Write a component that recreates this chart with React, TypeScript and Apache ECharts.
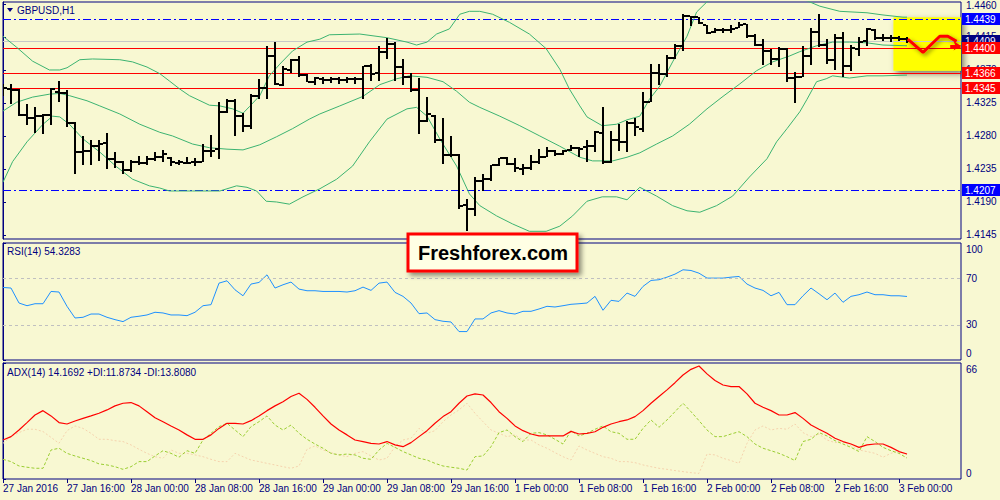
import React, { useEffect, useRef } from 'react';
import * as echarts from 'echarts';

const FONT = "'Liberation Sans', Arial, sans-serif";
const NAVY = '#000080';
const BG = '#F8F8D2';

const TIME_LABELS = ['27 Jan 2016', '27 Jan 16:00', '28 Jan 00:00', '28 Jan 08:00', '28 Jan 16:00', '29 Jan 00:00', '29 Jan 08:00', '29 Jan 16:00', '1 Feb 00:00', '1 Feb 08:00', '1 Feb 16:00', '2 Feb 00:00', '2 Feb 08:00', '2 Feb 16:00', '3 Feb 00:00'];
const BARS_PER_LABEL = 8;

const OPEN = [1.4348, 1.4344, 1.4343, 1.4308, 1.4305, 1.4307, 1.4308, 1.4340, 1.4339, 1.4298,
  1.4258, 1.4260, 1.4267, 1.4270, 1.4249, 1.4244, 1.4233, 1.4244, 1.4243, 1.4249,
  1.4252, 1.4250, 1.4243, 1.4243, 1.4244, 1.4245, 1.4259, 1.4262, 1.4313, 1.4328,
  1.4307, 1.4293, 1.4335, 1.4345, 1.4389, 1.4349, 1.4370, 1.4384, 1.4363, 1.4354,
  1.4358, 1.4357, 1.4358, 1.4357, 1.4358, 1.4358, 1.4375, 1.4366, 1.4394, 1.4405,
  1.4374, 1.4361, 1.4343, 1.4300, 1.4307, 1.4274, 1.4254, 1.4254, 1.4186, 1.4180,
  1.4219, 1.4222, 1.4240, 1.4250, 1.4242, 1.4235, 1.4237, 1.4244, 1.4251, 1.4260,
  1.4255, 1.4261, 1.4263, 1.4265, 1.4267, 1.4284, 1.4244, 1.4274, 1.4272, 1.4298,
  1.4290, 1.4327, 1.4366, 1.4365, 1.4386, 1.4403, 1.4443, 1.4442, 1.4431, 1.4422,
  1.4424, 1.4424, 1.4427, 1.4433, 1.4416, 1.4404, 1.4396, 1.4385, 1.4399, 1.4359,
  1.4361, 1.4389, 1.4422, 1.4404, 1.4383, 1.4413, 1.4376, 1.4399, 1.4409, 1.4425,
  1.4413, 1.4413, 1.4413, 1.4412];
const HIGH = [1.4351, 1.4351, 1.4344, 1.4324, 1.4319, 1.4310, 1.4346, 1.4355, 1.4343, 1.4299,
  1.4280, 1.4274, 1.4274, 1.4284, 1.4258, 1.4246, 1.4247, 1.4253, 1.4253, 1.4258,
  1.4261, 1.4251, 1.4247, 1.4251, 1.4250, 1.4269, 1.4281, 1.4326, 1.4331, 1.4331,
  1.4312, 1.4337, 1.4358, 1.4403, 1.4408, 1.4376, 1.4385, 1.4389, 1.4365, 1.4361,
  1.4360, 1.4361, 1.4360, 1.4361, 1.4360, 1.4376, 1.4378, 1.4403, 1.4413, 1.4408,
  1.4385, 1.4366, 1.4359, 1.4333, 1.4308, 1.4305, 1.4280, 1.4255, 1.4194, 1.4224,
  1.4228, 1.4240, 1.4250, 1.4252, 1.4250, 1.4242, 1.4254, 1.4262, 1.4265, 1.4261,
  1.4261, 1.4268, 1.4265, 1.4274, 1.4287, 1.4319, 1.4287, 1.4296, 1.4300, 1.4305,
  1.4340, 1.4378, 1.4378, 1.4390, 1.4405, 1.4446, 1.4444, 1.4442, 1.4431, 1.4427,
  1.4427, 1.4431, 1.4435, 1.4433, 1.4419, 1.4412, 1.4399, 1.4401, 1.4400, 1.4367,
  1.4403, 1.4427, 1.4446, 1.4412, 1.4419, 1.4422, 1.4404, 1.4415, 1.4427, 1.4426,
  1.4419, 1.4418, 1.4416, 1.4415];
const LOW = [1.4335, 1.4324, 1.4307, 1.4295, 1.4284, 1.4283, 1.4295, 1.4327, 1.4292, 1.4228,
  1.4241, 1.4241, 1.4246, 1.4235, 1.4237, 1.4228, 1.4231, 1.4240, 1.4240, 1.4246,
  1.4245, 1.4239, 1.4240, 1.4242, 1.4239, 1.4244, 1.4252, 1.4248, 1.4311, 1.4280,
  1.4285, 1.4290, 1.4331, 1.4331, 1.4349, 1.4348, 1.4366, 1.4361, 1.4353, 1.4350,
  1.4351, 1.4352, 1.4351, 1.4352, 1.4351, 1.4331, 1.4355, 1.4355, 1.4385, 1.4355,
  1.4350, 1.4340, 1.4283, 1.4299, 1.4270, 1.4242, 1.4252, 1.4180, 1.4150, 1.4171,
  1.4205, 1.4219, 1.4239, 1.4240, 1.4231, 1.4227, 1.4234, 1.4242, 1.4251, 1.4253,
  1.4254, 1.4259, 1.4251, 1.4244, 1.4258, 1.4242, 1.4243, 1.4259, 1.4258, 1.4280,
  1.4285, 1.4327, 1.4350, 1.4361, 1.4385, 1.4396, 1.4430, 1.4433, 1.4419, 1.4420,
  1.4420, 1.4421, 1.4427, 1.4413, 1.4403, 1.4377, 1.4377, 1.4374, 1.4353, 1.4325,
  1.4360, 1.4377, 1.4401, 1.4378, 1.4370, 1.4361, 1.4369, 1.4389, 1.4403, 1.4411,
  1.4409, 1.4408, 1.4409, 1.4407];
const CLOSE = [1.4345, 1.4343, 1.4308, 1.4305, 1.4307, 1.4308, 1.4344, 1.4339, 1.4298, 1.4258,
  1.4260, 1.4267, 1.4269, 1.4249, 1.4244, 1.4233, 1.4244, 1.4243, 1.4249, 1.4251,
  1.4255, 1.4244, 1.4244, 1.4243, 1.4245, 1.4260, 1.4260, 1.4313, 1.4328, 1.4307,
  1.4293, 1.4335, 1.4345, 1.4389, 1.4351, 1.4371, 1.4383, 1.4363, 1.4354, 1.4359,
  1.4357, 1.4358, 1.4357, 1.4358, 1.4358, 1.4375, 1.4365, 1.4394, 1.4405, 1.4374,
  1.4361, 1.4343, 1.4300, 1.4310, 1.4274, 1.4254, 1.4254, 1.4185, 1.4180, 1.4219,
  1.4222, 1.4240, 1.4250, 1.4242, 1.4236, 1.4236, 1.4244, 1.4251, 1.4260, 1.4255,
  1.4260, 1.4263, 1.4262, 1.4267, 1.4285, 1.4244, 1.4274, 1.4272, 1.4298, 1.4292,
  1.4327, 1.4366, 1.4365, 1.4386, 1.4403, 1.4444, 1.4442, 1.4434, 1.4420, 1.4424,
  1.4424, 1.4426, 1.4431, 1.4416, 1.4404, 1.4396, 1.4385, 1.4399, 1.4359, 1.4361,
  1.4389, 1.4422, 1.4404, 1.4383, 1.4413, 1.4376, 1.4400, 1.4408, 1.4426, 1.4413,
  1.4413, 1.4413, 1.4412, 1.4409];

const BB_UPPER = [[0, 1.4416], [1.7, 1.4401], [3.7, 1.4382], [5.8, 1.4370], [7.1, 1.4370], [8.0, 1.4373], [9.6, 1.4384], [11.2, 1.4385], [14.6, 1.4384], [16.2, 1.4381], [18.0, 1.4374], [19.6, 1.4365], [20.8, 1.4355], [22.1, 1.4344], [23.3, 1.4335], [25.8, 1.4322], [27.1, 1.4321], [28.7, 1.4317], [30.0, 1.4311], [30.8, 1.4320], [32.1, 1.4335], [33.3, 1.4362], [34.6, 1.4378], [36.2, 1.4396], [38.0, 1.4408], [39.6, 1.4412], [40.8, 1.4418], [44.6, 1.4419], [48.0, 1.4414], [50.5, 1.4408], [51.7, 1.4404], [53.0, 1.4408], [54.2, 1.4419], [55.8, 1.4426], [57.1, 1.4446], [58.3, 1.4450], [59.6, 1.4450], [61.2, 1.4446], [63.3, 1.4435], [65.8, 1.4419], [67.9, 1.4399], [69.6, 1.4371], [70.8, 1.4344], [72.1, 1.4321], [73.0, 1.4306], [74.9, 1.4294], [76.7, 1.4296], [78.0, 1.4302], [79.6, 1.4307], [80.8, 1.4330], [82.1, 1.4348], [83.7, 1.4381], [85.5, 1.4416], [86.7, 1.4449], [88.0, 1.4463], [90, 1.4472], [93, 1.4478], [96, 1.4477], [99, 1.4470], [100.8, 1.4463], [102.1, 1.4457], [104.6, 1.4450], [108.0, 1.4448], [110.0, 1.4445], [112.5, 1.4442], [113, 1.4442]];
const BB_MIDDLE = [[0, 1.4314], [1.7, 1.4326], [3.7, 1.4333], [5.8, 1.4337], [7.1, 1.4338], [8.3, 1.4335], [10.5, 1.4328], [12.1, 1.4321], [14.6, 1.4310], [17.1, 1.4296], [19.6, 1.4285], [21.2, 1.4280], [23.7, 1.4269], [25.8, 1.4264], [28.0, 1.4262], [30.0, 1.4261], [32.1, 1.4268], [34.2, 1.4279], [36.2, 1.4290], [38.3, 1.4303], [39.6, 1.4310], [42.1, 1.4321], [45.0, 1.4334], [47.1, 1.4350], [49.2, 1.4358], [50.8, 1.4362], [53.0, 1.4360], [55.0, 1.4354], [56.7, 1.4341], [58.3, 1.4326], [59.6, 1.4319], [62.1, 1.4307], [64.6, 1.4294], [67.1, 1.4280], [69.6, 1.4266], [72.1, 1.4251], [73.7, 1.4246], [76.2, 1.4246], [78.0, 1.4251], [79.6, 1.4257], [81.7, 1.4269], [83.7, 1.4280], [85.8, 1.4296], [88.0, 1.4317], [90.0, 1.4334], [92.1, 1.4351], [94.2, 1.4369], [96.2, 1.4381], [98.3, 1.4389], [99.6, 1.4395], [101.7, 1.4403], [103.7, 1.4408], [105.8, 1.4408], [108.0, 1.4407], [110.0, 1.4404], [113.0, 1.4403]];
const BB_LOWER = [[0, 1.4217], [1.2, 1.4245], [3.0, 1.4272], [5.0, 1.4296], [6.2, 1.4307], [7.1, 1.4306], [8.3, 1.4296], [10.0, 1.4276], [12.1, 1.4258], [14.2, 1.4238], [16.2, 1.4221], [18.3, 1.4212], [19.6, 1.4209], [20.8, 1.4205], [23.7, 1.4205], [27.1, 1.4205], [29.2, 1.4212], [30.5, 1.4210], [31.7, 1.4205], [32.9, 1.4191], [34.2, 1.4190], [35.8, 1.4187], [37.5, 1.4197], [39.6, 1.4208], [41.7, 1.4221], [43.7, 1.4239], [45.8, 1.4272], [48.0, 1.4303], [50.5, 1.4317], [51.7, 1.4319], [53.0, 1.4307], [54.6, 1.4276], [56.7, 1.4239], [58.3, 1.4201], [59.6, 1.4185], [61.7, 1.4171], [63.7, 1.4160], [65.8, 1.4150], [67.9, 1.4150], [69.6, 1.4157], [71.2, 1.4171], [73.0, 1.4191], [74.9, 1.4197], [76.7, 1.4197], [78.0, 1.4193], [79.6, 1.4210], [81.7, 1.4198], [83.7, 1.4185], [85.5, 1.4178], [87.1, 1.4176], [89.2, 1.4185], [91.2, 1.4198], [93.3, 1.4224], [95.5, 1.4249], [96.7, 1.4272], [98.0, 1.4290], [99.6, 1.4313], [100.5, 1.4330], [101.7, 1.4354], [102.9, 1.4358], [103.7, 1.4362], [105.8, 1.4359], [108.0, 1.4362], [110.0, 1.4362], [113.0, 1.4363]];

const RSI = [62.0, 61.5, 48.7, 46.4, 48.1, 48.1, 58.6, 58.1, 45.9, 35.9,
  36.5, 39.3, 39.3, 36.5, 34.5, 32.8, 36.5, 37.4, 38.5, 40.8,
  40.2, 38.5, 38.5, 37.9, 40.8, 46.4, 47.3, 65.7, 67.7, 60.0,
  54.9, 64.9, 66.3, 72.8, 61.5, 64.3, 66.6, 60.6, 59.2, 59.2,
  58.6, 58.6, 58.6, 58.1, 59.2, 62.3, 59.5, 65.7, 66.6, 57.8,
  54.4, 48.7, 39.6, 40.2, 34.5, 33.1, 32.5, 24.3, 24.3, 35.1,
  35.1, 40.2, 42.2, 40.2, 39.3, 41.6, 41.6, 43.6, 45.9, 45.3,
  46.4, 47.6, 48.1, 48.7, 54.4, 42.5, 51.0, 50.1, 57.2, 54.4,
  62.9, 68.0, 68.6, 70.8, 73.4, 77.1, 76.5, 74.2, 70.0, 70.0,
  70.0, 70.8, 71.4, 64.9, 61.5, 59.5, 54.9, 57.8, 47.3, 47.3,
  54.9, 61.5, 56.6, 51.5, 57.2, 49.3, 54.4, 55.8, 58.1, 55.8,
  55.8, 54.9, 54.9, 54.3];
const RSI_LEVELS = [70, 30];
const RSI_TICKS = [0, 30, 70, 100];

const ADX = [22.2, 24.1, 27.9, 32.1, 36.4, 38.9, 35.9, 32.1, 31.3, 33.0,
  34.5, 35.9, 37.4, 39.3, 41.6, 43.1, 43.5, 41.6, 38.3, 34.9,
  32.6, 30.2, 27.9, 25.1, 22.6, 22.6, 25.1, 28.8, 31.7, 31.7,
  31.3, 33.2, 35.9, 38.9, 41.6, 44.0, 46.9, 48.8, 45.3, 40.8,
  35.9, 31.3, 27.9, 25.1, 22.2, 21.3, 20.3, 19.9, 21.3, 19.4,
  18.4, 20.7, 24.1, 27.5, 31.7, 35.5, 38.3, 43.1, 47.2, 48.4,
  47.8, 43.5, 38.3, 34.5, 30.2, 27.5, 25.6, 24.5, 24.5, 24.5,
  24.5, 27.1, 25.6, 26.0, 26.9, 29.4, 31.3, 32.6, 33.6, 35.5,
  38.9, 43.1, 46.9, 50.7, 54.8, 59.2, 62.4, 64.3, 59.8, 56.0,
  53.5, 52.6, 52.6, 48.4, 43.1, 40.8, 38.9, 36.4, 36.4, 37.8,
  34.5, 30.7, 28.3, 26.0, 23.2, 21.3, 19.9, 18.0, 19.4, 19.9,
  19.9, 18.0, 15.6, 14.2];
const PLUS_DI = [11.2, 9.9, 7.4, 6.7, 6.1, 6.1, 16.5, 17.5, 14.6, 13.1,
  11.8, 10.5, 8.6, 8.0, 7.0, 5.5, 7.0, 9.9, 9.9, 13.1,
  16.1, 14.6, 12.4, 16.1, 14.6, 22.2, 26.0, 29.8, 31.7, 27.9,
  24.1, 29.8, 32.6, 35.9, 30.7, 27.9, 30.7, 26.0, 22.6, 19.9,
  17.5, 14.6, 13.7, 14.2, 13.7, 11.8, 11.2, 16.5, 20.3, 18.0,
  15.6, 13.7, 11.8, 10.8, 8.9, 7.4, 6.7, 6.1, 5.1, 12.7,
  13.1, 18.4, 26.4, 27.9, 24.1, 21.3, 26.0, 26.4, 25.1, 22.6,
  19.9, 27.5, 24.5, 26.0, 28.3, 30.2, 26.9, 26.0, 22.6, 22.6,
  28.8, 33.6, 29.4, 33.6, 38.3, 43.1, 38.3, 33.2, 27.9, 24.1,
  24.1, 25.6, 26.9, 24.1, 19.9, 17.5, 16.1, 14.6, 12.7, 10.5,
  21.3, 22.6, 26.4, 24.5, 21.8, 19.9, 18.0, 15.6, 24.1, 21.3,
  18.0, 16.1, 14.6, 11.9];
const MINUS_DI = [20.3, 24.1, 26.4, 28.3, 28.3, 27.0, 23.7, 20.3, 27.5, 30.2,
  28.8, 26.0, 22.6, 22.6, 21.8, 21.3, 19.4, 16.9, 14.6, 12.7,
  11.8, 16.5, 14.6, 14.6, 13.7, 12.7, 11.2, 9.9, 9.9, 14.6,
  12.7, 10.8, 9.9, 8.9, 8.0, 7.0, 6.1, 7.4, 16.9, 18.8,
  16.5, 15.0, 13.7, 12.7, 14.6, 15.6, 13.1, 10.8, 11.8, 18.4,
  22.2, 23.2, 28.8, 26.0, 27.5, 32.6, 36.4, 39.3, 43.1, 37.4,
  32.6, 27.9, 26.0, 24.1, 25.1, 22.2, 22.2, 19.4, 17.5, 15.0,
  12.7, 10.8, 18.8, 16.5, 14.6, 12.7, 11.8, 9.9, 9.9, 9.3,
  8.0, 7.0, 6.1, 5.5, 4.8, 4.2, 3.6, 3.2, 14.2, 13.7,
  11.8, 10.5, 8.9, 20.3, 27.9, 30.2, 27.9, 28.8, 28.3, 31.3,
  26.4, 24.1, 25.6, 22.2, 20.7, 21.3, 18.8, 16.5, 15.6, 14.6,
  12.4, 14.6, 16.1, 13.8];
const ADX_TICKS = [0, 66];

const PRICE_TICKS = [1.4145, 1.4190, 1.4235, 1.4280, 1.4325, 1.4370, 1.4415, 1.4460];
const BLUE_LEVELS = [1.4439, 1.4207];
const BID_LEVELS = [1.4409];
const RED_LEVELS = [1.4366, 1.4345, 1.4400];
const FORECAST = [[113.1, 1.4412], [115.0, 1.4394], [117.1, 1.4416], [118.1, 1.4416], [119.2, 1.4409]];
const FORECAST_ARROW = [[118.4, 1.4403], [119.7, 1.4403]];
const BOX_X = [111.3, 119.75];
const BOX_Y = [1.4369, 1.4442];

const X_MIN = 0;
const X_MAX = 119.75;
const PRICE_MIN = 1.41395;
const PRICE_MAX = 1.44627;

function levelSeries(levels: number[], lineColor: string, labelBg: string, dash: number[] | null, z: number) {
  return {
    type: 'custom', xAxisIndex: 0, yAxisIndex: 0, z, silent: true, clip: false,
    data: levels.map((v) => [X_MIN, v]),
    encode: { x: 0, y: 1 },
    renderItem: (params: any, api: any) => {
      const v = api.value(1);
      const cs = params.coordSys;
      const y = Math.round(api.coord([X_MIN, v])[1]) + 0.5;
      const right = cs.x + cs.width;
      return {
        type: 'group',
        children: [
          { type: 'line', shape: { x1: cs.x, y1: y, x2: right, y2: y }, style: { stroke: lineColor, lineWidth: 1, lineDash: dash || undefined } },
          { type: 'rect', shape: { x: right + 1, y: y - 6.5, width: 39, height: 12 }, style: { fill: labelBg } },
          { type: 'text', style: { text: v.toFixed(4), x: right + 4, y: y, fill: '#FFFFFF', fontSize: 10, fontFamily: FONT, verticalAlign: 'middle', align: 'left' } },
        ],
      };
    },
  };
}

export default function App() {
  const ref = useRef<HTMLDivElement>(null);
  useEffect(() => {
    document.body.style.margin = '0';
    document.body.style.background = BG;
    const chart = echarts.init(ref.current!, null, { renderer: 'svg' });
    const xAxisBase = { type: 'value', min: X_MIN, max: X_MAX, splitLine: { show: false } };
    const labelBase = { color: NAVY, fontSize: 10, fontFamily: FONT };
    const topTick = PRICE_TICKS[PRICE_TICKS.length - 1];
    const option: any = {
      animation: false,
      backgroundColor: BG,
      grid: [
        { left: 3, top: 2, width: 958, height: 237, show: true, borderColor: NAVY, borderWidth: 1, outerBoundsMode: 'none' },
        { left: 3, top: 243, width: 958, height: 117, show: true, borderColor: NAVY, borderWidth: 1, outerBoundsMode: 'none' },
        { left: 3, top: 363, width: 958, height: 116, show: true, borderColor: NAVY, borderWidth: 1, outerBoundsMode: 'none' },
      ],
      xAxis: [
        { ...xAxisBase, gridIndex: 0, show: false },
        { ...xAxisBase, gridIndex: 1, show: false },
        {
          ...xAxisBase, gridIndex: 2, show: true,
          axisLine: { show: false },
          axisTick: { show: true, length: 4, lineStyle: { color: NAVY }, customValues: TIME_LABELS.map((_, k) => k * BARS_PER_LABEL) },
          axisLabel: {
            ...labelBase, align: 'left', margin: 4,
            customValues: TIME_LABELS.map((_, k) => k * BARS_PER_LABEL),
            formatter: (v: number) => TIME_LABELS[Math.round(v / BARS_PER_LABEL)] ?? '',
          },
        },
      ],
      yAxis: [
        {
          gridIndex: 0, type: 'value', position: 'right', min: PRICE_MIN, max: PRICE_MAX,
          splitLine: { show: false },
          axisLine: { show: true, lineStyle: { color: NAVY } },
          axisTick: { show: true, length: 3, lineStyle: { color: NAVY }, customValues: PRICE_TICKS },
          axisLabel: {
            ...labelBase, margin: 5, customValues: PRICE_TICKS,
            formatter: (v: number) => (Math.abs(v - topTick) < 1e-7 ? `{top|${v.toFixed(4)}}` : v.toFixed(4)),
            rich: { top: { padding: [4, 0, 0, 0], color: NAVY, fontSize: 10, fontFamily: FONT } },
          },
        },
        {
          gridIndex: 1, type: 'value', position: 'right', min: 0, max: 100,
          splitLine: { show: false },
          axisLine: { show: true, lineStyle: { color: NAVY } },
          axisTick: { show: true, length: 3, lineStyle: { color: NAVY }, customValues: RSI_TICKS },
          axisLabel: {
            ...labelBase, margin: 5, customValues: RSI_TICKS,
            formatter: (v: number) => (v === 100 ? '{hi|100}' : v === 0 ? '{lo|0}' : String(v)),
            rich: {
              hi: { padding: [12, 0, 0, 0], color: NAVY, fontSize: 10, fontFamily: FONT },
              lo: { padding: [0, 0, 13, 0], color: NAVY, fontSize: 10, fontFamily: FONT },
            },
          },
        },
        {
          gridIndex: 2, type: 'value', position: 'right', min: 0, max: 66,
          splitLine: { show: false },
          axisLine: { show: true, lineStyle: { color: NAVY } },
          axisTick: { show: true, length: 3, lineStyle: { color: NAVY }, customValues: ADX_TICKS },
          axisLabel: {
            ...labelBase, margin: 5, customValues: ADX_TICKS,
            formatter: (v: number) => (v === 66 ? '{hi|66}' : '{lo|0}'),
            rich: {
              hi: { padding: [12, 0, 0, 0], color: NAVY, fontSize: 10, fontFamily: FONT },
              lo: { padding: [0, 0, 12, 0], color: NAVY, fontSize: 10, fontFamily: FONT },
            },
          },
        },
      ],
      series: [
        {
          type: 'line', xAxisIndex: 0, yAxisIndex: 0, z: 1, data: [[BOX_X[0], BOX_Y[0]]], showSymbol: false,
          lineStyle: { opacity: 0 }, silent: true,
          markArea: {
            silent: true,
            itemStyle: { color: '#FFFF00', shadowBlur: 6, shadowColor: 'rgba(0,0,0,0.5)', shadowOffsetX: 3, shadowOffsetY: 3 },
            data: [[{ coord: [BOX_X[0], BOX_Y[1]] }, { coord: [BOX_X[1], BOX_Y[0]] }]],
          },
        },
        { type: 'line', xAxisIndex: 0, yAxisIndex: 0, z: 2, data: BB_UPPER, showSymbol: false, lineStyle: { color: '#3CB371', width: 1 }, silent: true },
        { type: 'line', xAxisIndex: 0, yAxisIndex: 0, z: 2, data: BB_LOWER, showSymbol: false, lineStyle: { color: '#3CB371', width: 1 }, silent: true },
        { type: 'line', xAxisIndex: 0, yAxisIndex: 0, z: 2, data: BB_MIDDLE, showSymbol: false, lineStyle: { color: '#3CB371', width: 1 }, silent: true },
        levelSeries(BLUE_LEVELS, '#0000FF', '#0000FF', [8, 3, 2, 3], 2),
        levelSeries(BID_LEVELS, '#C8C8C8', NAVY, null, 2),
        levelSeries(RED_LEVELS, '#FF0000', '#FF0000', null, 2),
        {
          type: 'custom', xAxisIndex: 0, yAxisIndex: 0, z: 3, clip: true, silent: true,
          data: OPEN.map((o, i) => [i, o, HIGH[i], LOW[i], CLOSE[i]]),
          encode: { x: 0, y: [1, 2, 3, 4] },
          renderItem: (params: any, api: any) => {
            const i = api.value(0);
            const o = api.coord([i, api.value(1)]);
            const h = api.coord([i, api.value(2)]);
            const l = api.coord([i, api.value(3)]);
            const c = api.coord([i, api.value(4)]);
            const x = Math.round(o[0]);
            const style = { fill: '#000000' };
            const hy = Math.round(h[1]);
            const ly = Math.round(l[1]);
            return {
              type: 'group',
              children: [
                { type: 'rect', shape: { x: x - 1, y: hy, width: 2, height: Math.max(1, ly - hy) }, style },
                { type: 'rect', shape: { x: x - 4, y: Math.round(o[1]) - 1, width: 3, height: 2 }, style },
                { type: 'rect', shape: { x: x + 1, y: Math.round(c[1]) - 1, width: 3, height: 2 }, style },
              ],
            };
          },
        },
        {
          type: 'line', xAxisIndex: 0, yAxisIndex: 0, z: 4, data: FORECAST, showSymbol: false, silent: true,
          lineStyle: { color: '#FF0000', width: 3, shadowBlur: 4, shadowColor: 'rgba(0,0,0,0.45)', shadowOffsetX: 2, shadowOffsetY: 2 },
          markLine: {
            silent: true, symbol: ['none', 'arrow'], symbolSize: 7, precision: 4,
            lineStyle: { color: '#FF0000', width: 3, type: 'solid' }, label: { show: false },
            data: [[{ coord: FORECAST_ARROW[0] }, { coord: FORECAST_ARROW[1] }]],
          },
        },
        {
          type: 'line', xAxisIndex: 1, yAxisIndex: 1, data: RSI.map((v, i) => [i, v]), showSymbol: false, silent: true,
          lineStyle: { color: '#1E90FF', width: 1 },
          markLine: {
            silent: true, symbol: 'none', label: { show: false }, precision: 4,
            lineStyle: { color: '#C0C0C0', width: 1, type: [3, 3] },
            data: RSI_LEVELS.map((v) => ({ yAxis: v })),
          },
        },
        {
          type: 'line', xAxisIndex: 2, yAxisIndex: 2, data: MINUS_DI.map((v, i) => [i, v]), showSymbol: false, silent: true,
          lineStyle: { color: '#F5D3AE', width: 1, type: [2, 2] },
        },
        {
          type: 'line', xAxisIndex: 2, yAxisIndex: 2, data: PLUS_DI.map((v, i) => [i, v]), showSymbol: false, silent: true,
          lineStyle: { color: '#9ACD32', width: 1, type: [3, 2] },
        },
        {
          type: 'line', xAxisIndex: 2, yAxisIndex: 2, data: ADX.map((v, i) => [i, v]), showSymbol: false, silent: true,
          lineStyle: { color: '#FF0000', width: 1.2 },
        },
      ],
      graphic: [
        { type: 'polygon', z: 100, shape: { points: [[7, 8], [13, 8], [10, 12]] }, style: { fill: NAVY } },
        { type: 'text', z: 100, style: { text: 'GBPUSD,H1', x: 17, y: 10.5, fill: NAVY, fontSize: 10, fontFamily: FONT, verticalAlign: 'middle' } },
        { type: 'text', z: 100, style: { text: 'RSI(14) 54.3283', x: 7, y: 251.5, fill: NAVY, fontSize: 10, fontFamily: FONT, verticalAlign: 'middle' } },
        { type: 'text', z: 100, style: { text: 'ADX(14) 14.1692 +DI:11.8734 -DI:13.8080', x: 7, y: 372, fill: NAVY, fontSize: 10, fontFamily: FONT, verticalAlign: 'middle' } },
        {
          type: 'group', z: 100,
          children: [
            { type: 'rect', z: 100, shape: { x: 408, y: 234, width: 169, height: 37 }, style: { fill: '#FFFFE4', stroke: '#FF0000', lineWidth: 3, shadowBlur: 5, shadowColor: 'rgba(0,0,0,0.45)', shadowOffsetX: 3, shadowOffsetY: 3 } },
            { type: 'text', z: 101, style: { text: 'Freshforex.com', x: 493, y: 253, fill: '#000000', fontSize: 20, fontWeight: 'bold', fontFamily: FONT, align: 'center', verticalAlign: 'middle' } },
          ],
        },
      ],
    };
    chart.setOption(option);
    return () => chart.dispose();
  }, []);
  return <div ref={ref} style={{ position: 'fixed', left: 0, top: 0, width: 1000, height: 500, background: BG }} />;
}
